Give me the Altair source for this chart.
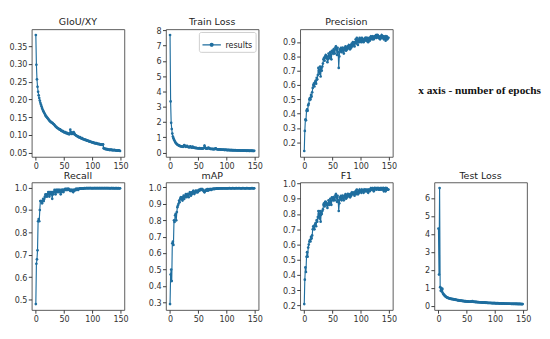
import altair as alt
import pandas as pd

EPOCHS = list(range(150))

GIOU = [
    0.382, 0.298, 0.257, 0.236, 0.222, 0.212, 0.204, 0.197, 0.191, 0.186,
    0.181, 0.176, 0.172, 0.168, 0.165, 0.162, 0.159, 0.156, 0.153, 0.151,
    0.149, 0.147, 0.145, 0.143, 0.141, 0.139, 0.138, 0.136, 0.135, 0.134,
    0.133, 0.131, 0.130, 0.128, 0.126, 0.124, 0.123, 0.121, 0.120, 0.119,
    0.118, 0.117, 0.115, 0.116, 0.114, 0.112, 0.111, 0.112, 0.110, 0.109,
    0.108, 0.107, 0.108, 0.106, 0.105, 0.106, 0.104, 0.103, 0.104, 0.102,
    0.104, 0.115, 0.108, 0.103, 0.104, 0.107, 0.103, 0.108, 0.105, 0.102,
    0.100, 0.099, 0.098, 0.097, 0.096, 0.095, 0.094, 0.093, 0.094, 0.092,
    0.091, 0.090, 0.091, 0.089, 0.088, 0.088, 0.087, 0.086, 0.087, 0.085,
    0.085, 0.084, 0.084, 0.083, 0.082, 0.083, 0.081, 0.081, 0.080, 0.080,
    0.079, 0.079, 0.078, 0.078, 0.077, 0.077, 0.076, 0.077, 0.076, 0.075,
    0.075, 0.074, 0.075, 0.074, 0.073, 0.073, 0.074, 0.073, 0.072, 0.074,
    0.063, 0.062, 0.061, 0.061, 0.060, 0.060, 0.060, 0.059, 0.059, 0.059,
    0.058, 0.058, 0.058, 0.059, 0.058, 0.057, 0.058, 0.057, 0.057, 0.058,
    0.057, 0.057, 0.056, 0.057, 0.056, 0.056, 0.057, 0.056, 0.056, 0.055,
]

TRAIN_LOSS = [
    7.70, 3.35, 1.95, 1.55, 1.25, 1.05, 0.95, 0.85, 0.78, 0.70,
    0.64, 0.60, 0.56, 0.53, 0.50, 0.48, 0.46, 0.44, 0.43, 0.42,
    0.41, 0.40, 0.39, 0.38, 0.42, 0.50, 0.46, 0.40, 0.38, 0.42,
    0.45, 0.40, 0.37, 0.36, 0.35, 0.38, 0.42, 0.36, 0.34, 0.33,
    0.40, 0.35, 0.33, 0.32, 0.31, 0.30, 0.32, 0.30, 0.29, 0.29,
    0.28, 0.28, 0.30, 0.27, 0.27, 0.28, 0.26, 0.26, 0.27, 0.28,
    0.32, 0.46, 0.35, 0.28, 0.27, 0.26, 0.27, 0.30, 0.33, 0.28,
    0.26, 0.25, 0.25, 0.24, 0.24, 0.25, 0.23, 0.23, 0.24, 0.23,
    0.26, 0.28, 0.24, 0.22, 0.22, 0.21, 0.21, 0.22, 0.21, 0.20,
    0.20, 0.20, 0.19, 0.19, 0.20, 0.19, 0.18, 0.18, 0.19, 0.18,
    0.18, 0.17, 0.17, 0.18, 0.17, 0.17, 0.16, 0.17, 0.16, 0.16,
    0.16, 0.15, 0.16, 0.15, 0.15, 0.16, 0.15, 0.15, 0.14, 0.15,
    0.14, 0.14, 0.15, 0.14, 0.14, 0.13, 0.14, 0.14, 0.13, 0.14,
    0.13, 0.13, 0.14, 0.13, 0.13, 0.12, 0.13, 0.13, 0.12, 0.13,
    0.12, 0.12, 0.13, 0.12, 0.12, 0.13, 0.12, 0.11, 0.12, 0.12,
]

PRECISION = [
    0.14, 0.28, 0.36, 0.355, 0.42, 0.43, 0.42, 0.46, 0.47, 0.50,
    0.51, 0.50, 0.53, 0.52, 0.55, 0.58, 0.60, 0.61, 0.59, 0.62,
    0.63, 0.61, 0.65, 0.64, 0.67, 0.72, 0.70, 0.68, 0.73, 0.66,
    0.72, 0.70, 0.73, 0.75, 0.78, 0.79, 0.77, 0.80, 0.81, 0.79,
    0.80, 0.76, 0.78, 0.82, 0.80, 0.79, 0.83, 0.81, 0.78, 0.84,
    0.83, 0.82, 0.85, 0.84, 0.82, 0.86, 0.87, 0.85, 0.81, 0.86,
    0.83, 0.72, 0.80, 0.85, 0.84, 0.86, 0.83, 0.85, 0.86, 0.84,
    0.82, 0.86, 0.85, 0.87, 0.84, 0.86, 0.85, 0.87, 0.86, 0.88,
    0.87, 0.85, 0.88, 0.86, 0.89, 0.87, 0.90, 0.88, 0.89, 0.87,
    0.90, 0.92, 0.89, 0.93, 0.91, 0.88, 0.92, 0.90, 0.93, 0.91,
    0.92, 0.90, 0.93, 0.91, 0.92, 0.90, 0.92, 0.91, 0.93, 0.92,
    0.91, 0.93, 0.92, 0.90, 0.92, 0.93, 0.91, 0.92, 0.94, 0.93,
    0.92, 0.94, 0.93, 0.92, 0.94, 0.93, 0.94, 0.95, 0.93, 0.94,
    0.95, 0.93, 0.94, 0.93, 0.92, 0.94, 0.93, 0.95, 0.94, 0.93,
    0.94, 0.92, 0.93, 0.94, 0.91, 0.93, 0.94, 0.92, 0.93, 0.93,
]

RECALL = [
    0.48, 0.66, 0.68, 0.72, 0.85, 0.86, 0.85, 0.90, 0.94, 0.94,
    0.94, 0.93, 0.94, 0.95, 0.94, 0.95, 0.96, 0.97, 0.96, 0.97,
    0.96, 0.97, 0.98, 0.97, 0.96, 0.98, 0.97, 0.98, 0.97, 0.95,
    0.98, 0.97, 0.98, 0.99, 0.98, 0.97, 0.99, 0.98, 0.99, 0.98,
    0.99, 0.98, 0.99, 0.98, 0.97, 0.99, 0.98, 0.99, 0.99, 0.98,
    0.99, 0.99, 0.995, 0.99, 0.99, 0.995, 0.99, 0.995, 0.995, 0.99,
    0.99, 0.985, 0.99, 0.985, 0.99, 0.985, 0.98, 0.99, 0.985, 0.99,
    0.99, 0.995, 0.99, 0.995, 0.995, 0.99, 0.995, 0.995, 0.997, 0.995,
    0.997, 0.995, 0.997, 0.997, 0.995, 0.997, 0.998, 0.997, 0.997, 0.998,
    0.998, 0.997, 0.998, 0.998, 0.997, 0.998, 0.998, 0.998, 0.997, 0.998,
    0.997, 0.998, 0.997, 0.998, 0.998, 0.997, 0.998, 0.998, 0.997, 0.998,
    0.998, 0.997, 0.998, 0.998, 0.997, 0.998, 0.998, 0.997, 0.998, 0.998,
    0.997, 0.998, 0.998, 0.997, 0.998, 0.998, 0.997, 0.998, 0.998, 0.997,
    0.998, 0.997, 0.997, 0.998, 0.998, 0.997, 0.998, 0.997, 0.998, 0.997,
    0.997, 0.998, 0.997, 0.998, 0.997, 0.997, 0.998, 0.997, 0.997, 0.997,
]

MAP = [
    0.29, 0.47, 0.50, 0.43, 0.66, 0.67, 0.65, 0.80, 0.79, 0.83,
    0.84, 0.80, 0.85, 0.88, 0.89, 0.90, 0.92, 0.91, 0.93, 0.94,
    0.93, 0.94, 0.92, 0.94, 0.95, 0.93, 0.94, 0.95, 0.96, 0.94,
    0.95, 0.96, 0.95, 0.94, 0.96, 0.97, 0.96, 0.95, 0.97, 0.96,
    0.97, 0.98, 0.97, 0.96, 0.97, 0.98, 0.97, 0.98, 0.98, 0.97,
    0.98, 0.985, 0.98, 0.985, 0.99, 0.985, 0.99, 0.99, 0.985, 0.98,
    0.975, 0.97, 0.98, 0.985, 0.98, 0.985, 0.99, 0.98, 0.985, 0.99,
    0.985, 0.99, 0.99, 0.985, 0.99, 0.99, 0.992, 0.99, 0.993, 0.99,
    0.992, 0.993, 0.992, 0.994, 0.993, 0.994, 0.993, 0.994, 0.995, 0.994,
    0.995, 0.994, 0.995, 0.994, 0.995, 0.995, 0.994, 0.995, 0.995, 0.994,
    0.995, 0.995, 0.994, 0.995, 0.995, 0.996, 0.995, 0.995, 0.994, 0.995,
    0.995, 0.996, 0.995, 0.995, 0.994, 0.995, 0.995, 0.996, 0.995, 0.995,
    0.995, 0.995, 0.996, 0.995, 0.995, 0.995, 0.994, 0.995, 0.995, 0.996,
    0.995, 0.995, 0.995, 0.994, 0.995, 0.995, 0.996, 0.995, 0.995, 0.995,
    0.995, 0.994, 0.995, 0.995, 0.995, 0.996, 0.995, 0.995, 0.994, 0.995,
]

F1 = [
    0.21, 0.37, 0.45, 0.42, 0.52, 0.55, 0.52, 0.58, 0.60, 0.62,
    0.63, 0.62, 0.65, 0.64, 0.66, 0.70, 0.72, 0.71, 0.70, 0.73,
    0.74, 0.72, 0.76, 0.75, 0.78, 0.82, 0.80, 0.77, 0.82, 0.75,
    0.81, 0.80, 0.82, 0.83, 0.86, 0.87, 0.85, 0.88, 0.88, 0.86,
    0.87, 0.84, 0.86, 0.89, 0.87, 0.86, 0.90, 0.88, 0.86, 0.91,
    0.90, 0.89, 0.91, 0.90, 0.89, 0.92, 0.93, 0.91, 0.88, 0.92,
    0.89, 0.82, 0.87, 0.91, 0.90, 0.92, 0.89, 0.91, 0.92, 0.90,
    0.89, 0.92, 0.91, 0.93, 0.90, 0.92, 0.91, 0.93, 0.92, 0.93,
    0.92, 0.91, 0.93, 0.92, 0.94, 0.93, 0.94, 0.93, 0.94, 0.92,
    0.94, 0.95, 0.93, 0.96, 0.94, 0.93, 0.95, 0.94, 0.96, 0.95,
    0.95, 0.94, 0.96, 0.95, 0.95, 0.94, 0.96, 0.95, 0.96, 0.95,
    0.95, 0.96, 0.95, 0.94, 0.96, 0.96, 0.95, 0.96, 0.97, 0.96,
    0.96, 0.97, 0.96, 0.95, 0.97, 0.96, 0.97, 0.97, 0.96, 0.97,
    0.97, 0.96, 0.97, 0.96, 0.96, 0.97, 0.96, 0.97, 0.97, 0.96,
    0.97, 0.95, 0.96, 0.97, 0.95, 0.96, 0.97, 0.96, 0.96, 0.96,
]

TEST_LOSS = [
    4.30, 1.75, 6.55, 1.05, 0.85, 1.00, 0.80, 0.95, 0.70, 0.65,
    0.62, 0.58, 0.55, 0.52, 0.50, 0.48, 0.46, 0.45, 0.44, 0.43,
    0.42, 0.40, 0.41, 0.39, 0.38, 0.40, 0.38, 0.37, 0.36, 0.37,
    0.35, 0.34, 0.35, 0.33, 0.32, 0.33, 0.31, 0.30, 0.31, 0.30,
    0.29, 0.30, 0.28, 0.29, 0.27, 0.28, 0.27, 0.26, 0.27, 0.26,
    0.26, 0.25, 0.26, 0.25, 0.24, 0.25, 0.24, 0.25, 0.26, 0.24,
    0.27, 0.25, 0.24, 0.23, 0.24, 0.23, 0.22, 0.23, 0.22, 0.22,
    0.21, 0.22, 0.21, 0.21, 0.20, 0.21, 0.20, 0.20, 0.19, 0.20,
    0.19, 0.19, 0.20, 0.19, 0.18, 0.19, 0.18, 0.18, 0.17, 0.18,
    0.17, 0.17, 0.18, 0.17, 0.16, 0.17, 0.16, 0.16, 0.17, 0.16,
    0.16, 0.15, 0.16, 0.15, 0.15, 0.16, 0.15, 0.15, 0.14, 0.15,
    0.15, 0.14, 0.15, 0.14, 0.14, 0.15, 0.14, 0.14, 0.13, 0.14,
    0.14, 0.13, 0.14, 0.13, 0.13, 0.14, 0.13, 0.13, 0.13, 0.12,
    0.13, 0.12, 0.13, 0.12, 0.12, 0.13, 0.12, 0.12, 0.12, 0.12,
    0.12, 0.11, 0.12, 0.12, 0.11, 0.12, 0.11, 0.11, 0.11, 0.11,
]

X_TICKS = [0, 50, 100, 150]
X_DOMAIN = [-7.45, 156.45]
NOTE = "x axis - number of epochs"
SERIES_NAME = "results"
LINE_COLOR = "#1f6e9f"

PANELS = [
    ("GIoU/XY", GIOU, [0.05, 0.10, 0.15, 0.20, 0.25, 0.30, 0.35], ".2f"),
    ("Train Loss", TRAIN_LOSS, [0, 1, 2, 3, 4, 5, 6, 7, 8], "d"),
    ("Precision", PRECISION, [0.2, 0.3, 0.4, 0.5, 0.6, 0.7, 0.8, 0.9], ".1f"),
    ("Recall", RECALL, [0.5, 0.6, 0.7, 0.8, 0.9, 1.0], ".1f"),
    ("mAP", MAP, [0.3, 0.4, 0.5, 0.6, 0.7, 0.8, 0.9, 1.0], ".1f"),
    ("F1", F1, [0.2, 0.3, 0.4, 0.5, 0.6, 0.7, 0.8, 0.9, 1.0], ".1f"),
    ("Test Loss", TEST_LOSS, [0, 1, 2, 3, 4, 5, 6], "d"),
]

W, H = 98, 135
LEGEND_PATH = ("M-1,0L1,0M-0.16,0A0.16,0.16,0,1,1,0.16,0"
               "A0.16,0.16,0,1,1,-0.16,0Z")


def panel(title, values, yticks, fmt, legend=False, note=False):
    df = pd.DataFrame({"epoch": EPOCHS[:len(values)], "value": values,
                       "series": SERIES_NAME})
    lo, hi = min(values), max(values)
    m = (hi - lo) * 0.05
    enc = dict(
        x=alt.X("epoch:Q",
                scale=alt.Scale(domain=X_DOMAIN, nice=False, zero=False),
                axis=alt.Axis(values=X_TICKS, format="d", title=None)),
        y=alt.Y("value:Q",
                scale=alt.Scale(domain=[lo - m, hi + m], nice=False, zero=False),
                axis=alt.Axis(values=yticks, format=fmt, title=None)),
    )
    if legend:
        enc["color"] = alt.Color(
            "series:N",
            scale=alt.Scale(range=[LINE_COLOR]),
            legend=alt.Legend(
                title=None, orient="top-right", offset=3,
                symbolType=LEGEND_PATH, symbolSize=380,
                symbolStrokeWidth=1.3, symbolStrokeColor=LINE_COLOR,
                symbolFillColor=LINE_COLOR,
                labelFontSize=8.5, labelFont="DejaVu Sans", labelColor="#222",
                fillColor="white", strokeColor="#cccccc", padding=3,
                cornerRadius=2,
            ),
        )
    base = (
        alt.Chart(df)
        .mark_line(color=LINE_COLOR, strokeWidth=1.2,
                   point=alt.OverlayMarkDef(filled=True, size=8, color=LINE_COLOR))
        .encode(**enc)
    )
    heading = (
        alt.Chart(pd.DataFrame({"title": [title]}))
        .mark_text(font="DejaVu Sans", fontSize=10, color="#222",
                   align="center", baseline="alphabetic")
        .encode(text="title:N", x=alt.value(W / 2), y=alt.value(-4))
    )
    layers = [base, heading]
    if note:
        layers.append(
            alt.Chart(pd.DataFrame({"note": [NOTE]}))
            .mark_text(font="Liberation Serif", fontWeight="bold", fontSize=12,
                       align="center", baseline="middle", color="#111")
            .encode(text="note:N", x=alt.value(190), y=alt.value(65))
        )
    return alt.layer(*layers).properties(width=W, height=H)


charts = [panel(t, v, yt, f, legend=(t == "Train Loss"), note=(t == "Precision"))
          for t, v, yt, f in PANELS]

row1 = alt.hconcat(*charts[:3], spacing=14).resolve_scale(
    color="independent").resolve_legend(color="independent")
row2 = alt.hconcat(*charts[3:], spacing=14).resolve_scale(
    color="independent").resolve_legend(color="independent")

chart = (
    alt.vconcat(row1, row2, spacing=0)
    .resolve_scale(color="independent")
    .resolve_legend(color="independent")
    .properties(padding=0)
    .configure_view(stroke="#555555", strokeWidth=1)
    .configure_axis(grid=False, domain=False, tickColor="#333333", tickSize=3.5,
                    labelFont="DejaVu Sans", labelFontSize=8.5,
                    labelColor="#333333", labelPadding=1.5)
    .configure_axisY(minExtent=24, maxExtent=24)
)

chart.save("out.html", embed_options={"renderer": "svg", "actions": False})
